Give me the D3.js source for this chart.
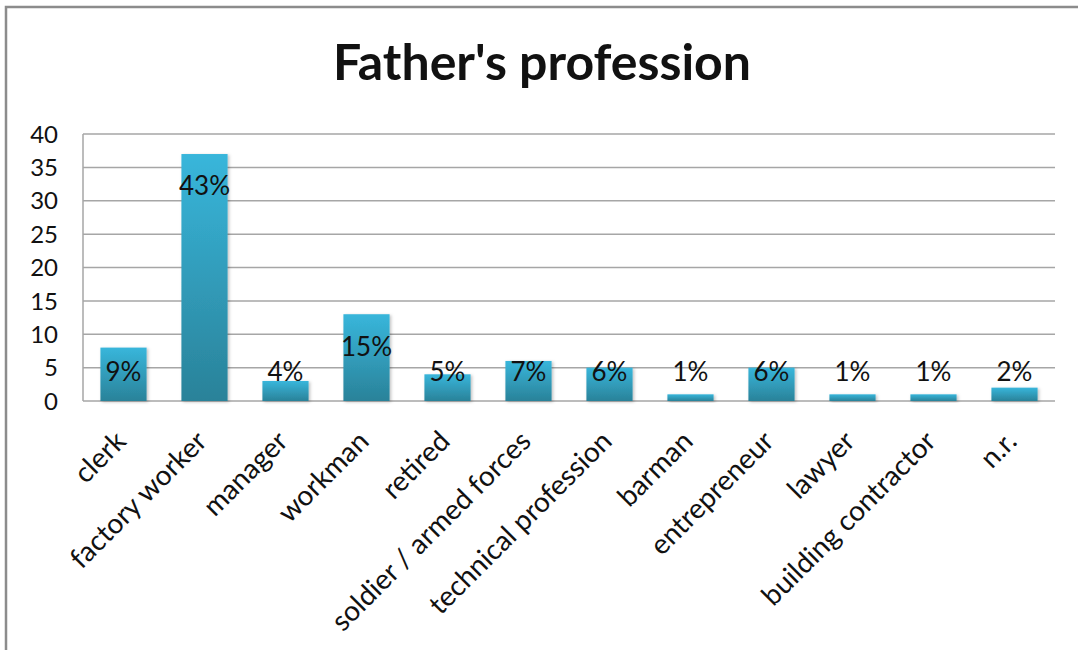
<!DOCTYPE html>
<html>
<head>
<meta charset="utf-8">
<script src="https://cdn.jsdelivr.net/npm/d3@7"></script>
<style>
  html, body { margin: 0; padding: 0; background: #fff; }
  svg { display: block; }
  text { font-family: Lato, "Open Sans", sans-serif; fill: #111; }
</style>
</head>
<body>
<svg id="chart" width="1078" height="650"></svg>
<script>
const title = "Father's profession";
const categories = ["clerk", "factory worker", "manager", "workman", "retired",
  "soldier / armed forces", "technical profession", "barman", "entrepreneur",
  "lawyer", "building contractor", "n.r."];
const counts = [8, 37, 3, 13, 4, 6, 5, 1, 5, 1, 1, 2];
const percentLabels = ["9%", "43%", "4%", "15%", "5%", "7%", "6%", "1%", "6%", "1%", "1%", "2%"];
const yTicks = [0, 5, 10, 15, 20, 25, 30, 35, 40];

const svg = d3.select("#chart");
const W = 1078, H = 650;
const plot = { left: 83, right: 1055, top: 134, bottom: 401 };

// outer frame
svg.append("rect").attr("x", 6).attr("y", 7).attr("width", W + 20).attr("height", H + 20)
  .attr("fill", "#fff").attr("stroke", "#8c8c8c").attr("stroke-width", 2.5);

const defs = svg.append("defs");
const grad = defs.append("linearGradient").attr("id", "barGrad")
  .attr("x1", 0).attr("y1", 0).attr("x2", 0).attr("y2", 1);
grad.append("stop").attr("offset", "0%").attr("stop-color", "#38b6db");
grad.append("stop").attr("offset", "100%").attr("stop-color", "#2a8299");
const filt = defs.append("filter").attr("id", "shadow").attr("x", "-20%").attr("y", "-20%").attr("width", "140%").attr("height", "140%");
filt.append("feDropShadow").attr("dx", 1.5).attr("dy", 1).attr("stdDeviation", 1.5).attr("flood-color", "#000").attr("flood-opacity", 0.25);

const x = d3.scaleBand().domain(categories).range([plot.left, plot.right]).paddingInner(0.43).paddingOuter(0.215);
const y = d3.scaleLinear().domain([0, 40]).range([plot.bottom, plot.top]);

// gridlines
svg.append("g").selectAll("line").data(yTicks).join("line")
  .attr("x1", plot.left).attr("x2", plot.right)
  .attr("y1", d => y(d)).attr("y2", d => y(d))
  .attr("stroke", "#a6a6a6").attr("stroke-width", 1.5);
// left axis line
svg.append("line").attr("x1", plot.left).attr("x2", plot.left)
  .attr("y1", plot.top).attr("y2", plot.bottom).attr("stroke", "#a6a6a6").attr("stroke-width", 1.5);

// y tick labels
svg.append("g").selectAll("text").data(yTicks).join("text")
  .attr("x", 58).attr("y", d => y(d)).attr("dy", "0.36em")
  .attr("text-anchor", "end").attr("font-size", 24).text(d => d);

// bars
svg.append("g").selectAll("rect").data(counts).join("rect")
  .attr("x", (d, i) => x(categories[i])).attr("width", x.bandwidth())
  .attr("y", d => y(d)).attr("height", d => y(0) - y(d))
  .attr("fill", "url(#barGrad)").attr("filter", "url(#shadow)");

// data labels (inside end, clamped above the axis)
svg.append("g").selectAll("text").data(counts).join("text")
  .attr("x", (d, i) => x(categories[i]) + x.bandwidth() / 2)
  .attr("y", d => Math.min(y(d) + 32, y(0) - 29))
  .attr("dy", "0.36em").attr("text-anchor", "middle").attr("font-size", 26)
  .attr("fill", "#1a1a1a")
  .text((d, i) => percentLabels[i]);

// category labels
svg.append("g").selectAll("text").data(categories).join("text")
  .attr("transform", d => `translate(${x(d) + x.bandwidth() / 2 + 4},${plot.bottom + 42}) rotate(-45)`)
  .attr("text-anchor", "end").attr("font-size", 28).text(d => d);

// title
svg.append("text").attr("x", 542).attr("y", 80).attr("text-anchor", "middle")
  .attr("font-size", 50).attr("font-weight", "bold").text(title);
</script>
</body>
</html>
